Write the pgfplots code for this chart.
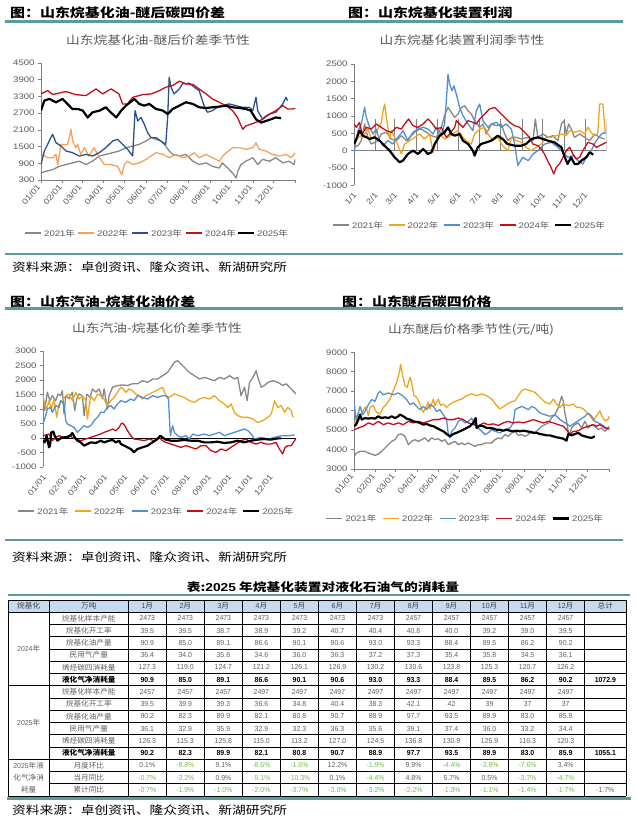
\documentclass[border=0pt]{standalone}
\usepackage{fontspec}
\usepackage{pgfplots}
\pgfplotsset{compat=1.18}
\setmainfont{Liberation Sans}[FakeStretch=1.2]
\newfontfamily\cjk{Noto Sans CJK SC}[FakeStretch=1.2]
\newfontfamily\tabcjk{Noto Sans CJK SC}[FakeStretch=1.05]
\newfontfamily\tabnum{Liberation Sans}[FakeStretch=0.95]
\definecolor{teal}{RGB}{91,155,155}
\definecolor{axgray}{RGB}{128,128,128}
\definecolor{txtgray}{RGB}{89,89,89}
\definecolor{g21}{RGB}{135,135,135}
\definecolor{o22a}{RGB}{246,160,90}
\definecolor{o22}{RGB}{238,166,32}
\definecolor{b23a}{RGB}{40,82,140}
\definecolor{b23}{RGB}{84,141,212}
\definecolor{r24}{RGB}{195,15,25}
\definecolor{hdrblue}{RGB}{197,217,241}
\definecolor{pgreen}{RGB}{112,190,80}
\definecolor{tabgray}{RGB}{95,95,95}
\pgfplotsset{
 seas/.style={
  scale only axis, xmin=0, xmax=365,
  axis x line*=bottom, axis y line*=left,
  axis line style={color=axgray, line width=0.7bp},
  tick style={color=axgray, line width=0.6bp},
  tick align=outside, major tick length=3bp,
  tick label style={font=\fontsize{8}{9}\selectfont, text=txtgray},
  /pgf/number format/assume math mode=true,
  /pgf/number format/1000 sep={},
  xtick={0,31,59,90,120,151,181,212,243,273,304,334,365},
  xticklabel style={rotate=50, anchor=east},
  every axis plot/.append style={line width=1.3bp, line join=round, mark=none},
 }
}
\newcommand\trow[5]{%
  \pgfmathsetmacro\yy{600+12.25*(#1+0.5)}%
  \node[#5] at (88.8,\yy) {\tabcjk #2};%
  \foreach \v [count=\j] in {#3} {\pgfmathsetmacro\xx{128.3+38.03*(\j-0.5)}\node[#5] at (\xx,\yy) {\v};}%
  \node[#5] at (605.35,\yy) {#4};%
}
\newcommand\leg[4]{%
  \draw[#3] (#1,#2) -- ++(16,0);%
  \node[anchor=west, inner sep=0, text=txtgray, font=\fontsize{8}{9}\selectfont] at (#1+19,#2) {#4{\cjk 年}};%
}
\newcommand\legset[7]{% y, x1..x5, color suffix
  \leg{#2}{#1}{draw=g21, line width=1.8bp}{2021}
  \leg{#3}{#1}{draw=o22#7, line width=1.8bp}{2022}
  \leg{#4}{#1}{draw=b23#7, line width=1.8bp}{2023}
  \leg{#5}{#1}{draw=r24, line width=1.8bp}{2024}
  \leg{#6}{#1}{draw=black, line width=2.4bp}{2025}
}
\newcommand\gn[1]{\textcolor{pgreen}{#1\%}}
\newcommand\gp[1]{#1\%}
\begin{document}
\begin{tikzpicture}
\useasboundingbox (0,0) rectangle (637bp,-827bp);
\begin{scope}[x=1bp,y=-1bp]
% headings and rules
\node[anchor=west, inner sep=0] at (10,12.7) {\fontsize{12.5}{14}\cjk\bfseries 图：山东烷基化油-醚后碳四价差};
\node[anchor=west, inner sep=0] at (348,13) {\fontsize{12.5}{14}\cjk\bfseries 图：山东烷基化装置利润};
\node[anchor=west, inner sep=0] at (10,302) {\fontsize{12.5}{14}\cjk\bfseries 图：山东汽油-烷基化油价差};
\node[anchor=west, inner sep=0] at (342,302) {\fontsize{12.5}{14}\cjk\bfseries 图：山东醚后碳四价格};
\draw[teal, line width=2.5bp] (5,21.7) -- (623,21.7);
\draw[teal, line width=2.5bp] (5,254) -- (623,254);
\draw[teal, line width=2.5bp] (5,308.3) -- (623,308.3);
\draw[teal, line width=2.5bp] (5,540) -- (623,540);
\node[anchor=west, inner sep=0] at (12,267) {\fontsize{11.5}{13}\cjk 资料来源：卓创资讯、隆众资讯、新湖研究所};
\node[anchor=west, inner sep=0] at (12,557) {\fontsize{11.5}{13}\cjk 资料来源：卓创资讯、隆众资讯、新湖研究所};
\node[anchor=west, inner sep=0] at (12,810) {\fontsize{11.5}{13}\cjk 资料来源：卓创资讯、隆众资讯、新湖研究所};
% chart titles
\node[text=txtgray] at (158,40) {\fontsize{11.5}{13}\cjk 山东烷基化油-醚后价差季节性};
\node[text=txtgray] at (462,40.5) {\fontsize{11.5}{13}\cjk 山东烷基化装置利润季节性};
\node[text=txtgray] at (157,327.7) {\fontsize{11.5}{13}\cjk 山东汽油-烷基化价差季节性};
\node[text=txtgray] at (471,330) {\fontsize{11.5}{13}\cjk 山东醚后价格季节性(元/吨)};
% legends
\legset{233}{25}{78}{132}{186}{238}{a}
\legset{225}{333}{388.5}{444}{499.5}{555}{}
\legset{511}{18.3}{75}{131.7}{187.3}{243.3}{}
\legset{518.5}{326.3}{383}{439.7}{496.3}{553}{}
% table
\node at (323,587) {\fontsize{11.5}{13}\cjk\bfseries 表:\textbf{\fontspec{Liberation Sans}[FakeStretch=1.2]2025} 年烷基化装置对液化石油气的消耗量};
\draw[teal, line width=2.5bp] (8,595) -- (630,595);
\fill[hdrblue] (8,600) rectangle (626,612.25);
\foreach \x in {8,49.3,128.3,166.3,204.4,242.4,280.4,318.5,356.5,394.5,432.6,470.6,508.6,546.7,584.7,626}
  \draw[line width=0.6bp] (\x,600) -- (\x,796);
\draw[line width=0.6bp] (8,600) -- (626,600);
\draw[line width=0.6bp] (8,612.25) -- (626,612.25);
\foreach \r in {1,2,3,4,5,7,8,9,10,11,13,14}{
  \pgfmathsetmacro\yy{600+12.25*(\r+1)}
  \draw[line width=0.6bp] (49.3,\yy) -- (626,\yy);}
\foreach \r in {6,12,15}{
  \pgfmathsetmacro\yy{600+12.25*(\r+1)}
  \draw[line width=0.6bp] (8,\yy) -- (626,\yy);}
\draw[teal, line width=2.5bp] (7,798.3) -- (631,798.3);
\tikzset{tt/.style={text=tabgray, inner sep=0, font=\tabnum\fontsize{7.3}{8}\selectfont},
         tb/.style={text=black, inner sep=0, font=\tabnum\bfseries\fontsize{7.3}{8}\selectfont},
         th/.style={text=black!75, inner sep=0, font=\tabnum\fontsize{7.3}{8}\selectfont}}
\node[th] at (28.7,606.1) {\tabcjk 烷基化};
\node[th] at (88.8,606.1) {\tabcjk 万吨};
\foreach \m in {1,...,12}{\pgfmathsetmacro\xx{128.3+38.03*(\m-0.5)}\node[th] at (\xx,606.1) {\m{\tabcjk 月}};}
\node[th] at (605.35,606.1) {\tabcjk 总计};
\node[tt] at (28.7,649) {2024{\tabcjk 年}};
\node[tt] at (28.7,722.5) {2025{\tabcjk 年}};
\node[tt] at (28.7,765.4) {2025{\tabcjk 年液}};
\node[tt] at (28.7,777.6) {\tabcjk 化气净消};
\node[tt] at (28.7,789.9) {\tabcjk 耗量};
\trow{1}{烷基化样本产能}{2473,2473,2473,2473,2473,2473,2473,2457,2457,2457,2457,2457}{}{tt}
\trow{2}{烷基化开工率}{39.5,39.5,38.7,38.9,39.2,40.7,40.4,40.8,40.0,39.2,39.0,39.5}{}{tt}
\trow{3}{烷基化油产量}{90.9,85.0,89.1,86.6,90.1,90.6,93.0,93.3,88.4,89.5,86.2,90.2}{}{tt}
\trow{4}{民用气产量}{36.4,34.0,35.6,34.6,36.0,36.3,37.2,37.3,35.4,35.8,34.5,36.1}{}{tt}
\trow{5}{烯烃碳四消耗量}{127.3,119.0,124.7,121.2,126.1,126.9,130.2,130.6,123.8,125.3,120.7,126.2}{}{tt}
\trow{6}{液化气净消耗量}{90.9,85.0,89.1,86.6,90.1,90.6,93.0,93.3,88.4,89.5,86.2,90.2}{1072.9}{tb}
\trow{7}{烷基化样本产能}{2457,2457,2457,2497,2497,2497,2497,2497,2497,2497,2497,2497}{}{tt}
\trow{8}{烷基化开工率}{39.5,39.9,39.3,36.6,34.8,40.4,38.3,42.1,42,39,37,37}{}{tt}
\trow{9}{烷基化油产量}{90.2,82.3,89.9,82.1,80.8,90.7,88.9,97.7,93.5,89.9,83.0,85.9}{}{tt}
\trow{10}{民用气产量}{36.1,32.9,35.9,32.9,32.3,36.3,35.6,39.1,37.4,36.0,33.2,34.4}{}{tt}
\trow{11}{烯烃碳四消耗量}{126.3,115.3,125.8,115.0,113.2,127.0,124.5,136.8,130.9,125.9,116.3,120.3}{}{tt}
\trow{12}{液化气净消耗量}{90.2,82.3,89.9,82.1,80.8,90.7,88.9,97.7,93.5,89.9,83.0,85.9}{1055.1}{tb}
\trow{13}{月度环比}{\gp{0.1},\gn{-8.8},\gp{9.1},\gn{-8.6},\gn{-1.6},\gp{12.2},\gn{-1.9},\gp{9.9},\gn{-4.4},\gn{-3.8},\gn{-7.6},\gp{3.4}}{}{tt}
\trow{14}{当月同比}{\gn{-0.7},\gn{-3.2},\gp{0.9},\gn{-5.1},\gn{-10.3},\gp{0.1},\gn{-4.4},\gp{4.8},\gp{5.7},\gp{0.5},\gn{-3.7},\gn{-4.7}}{}{tt}
\trow{15}{累计同比}{\gn{-0.7},\gn{-1.9},\gn{-1.0},\gn{-2.0},\gn{-3.7},\gn{-3.0},\gn{-3.2},\gn{-2.2},\gn{-1.3},\gn{-1.1},\gn{-1.4},\gn{-1.7}}{\gp{-1.7}}{tt}
\end{scope}

% ---------- chart 1
\begin{axis}[seas, at={(41bp,-180bp)}, anchor=south west, width=254.3bp, height=117bp,
 ymin=300, ymax=4500, ytick={300,900,...,4500},
 xticklabels={01/01,02/01,03/01,04/01,05/01,06/01,07/01,08/01,09/01,10/01,11/01,12/01,{}}]
\addplot[draw=g21] coordinates {(0,553)(7,613)(16.7,670)(26,790)(36,855)(45.5,915)(55,975)(64.6,855)(74,975)(83.7,1160)(93,1220)(103,1280)(112,1340)(122,1460)(131.6,1520)(141,1580)(150.7,1700)(158,1820)(165,1760)(172,1700)(179,1520)(184,1340)(189,1220)(198.6,1160)(208,1220)(218,975)(227,855)(237,915)(246,790)(256,730)(260,915)(268,730)(275,553)(280,372)(282.5,613)(287,855)(294,975)(304,1100)(311,855)(318,1040)(328,975)(337,1100)(347,915)(356,975)(363,855)(365,1040)};
\addplot[draw=o22a] coordinates {(0,1000)(2.4,1217)(9.6,1100)(16.7,1100)(21.5,1220)(24,855)(28.7,1580)(33.5,1560)(38,1580)(40.7,1820)(43,2120)(45.5,1700)(50,1460)(52.6,1580)(57,1220)(62,1460)(69,1160)(76,1460)(83.7,1100)(91,855)(100.5,855)(110,790)(116,490)(119.6,855)(124,975)(131.6,855)(141,915)(150.7,1040)(158,1160)(165,1280)(175,1220)(184,1100)(194,1220)(203,1100)(213,1160)(220,1280)(227,1100)(237,1220)(246,1100)(256,975)(263,1220)(275,1460)(285,1460)(294,1400)(304,1460)(308.6,1640)(313,1400)(323,1340)(332,1220)(342,1160)(351.6,1220)(359,1100)(365,1280)};
\addplot[draw=b23a] coordinates {(0,855)(4.8,1340)(9.6,1580)(14,1820)(16.7,1940)(21.5,1640)(28.7,1520)(36,1340)(45.5,1280)(55,1160)(64.6,1220)(74,1160)(83.7,1280)(93,1460)(103,1700)(110,1760)(117,1580)(124.4,1400)(131.6,1160)(135,2790)(138.8,2420)(143.5,2545)(148.3,2300)(153,2000)(158,1820)(165,1820)(172,1700)(179,1580)(181.8,2545)(184,3990)(186.6,3630)(191,3390)(198.6,3570)(203,3750)(213,3775)(220,3630)(227,3510)(234,2970)(239,2730)(246,2790)(253,2910)(260,2970)(270,3030)(280,2970)(289.5,2910)(299,2910)(304,2790)(308.6,3270)(311,2790)(318,2480)(328,2670)(337,2730)(347,3030)(351.6,3270)(354,3150)};
\addplot[draw=r24] coordinates {(0,3390)(9.6,3510)(16.7,3370)(36,3475)(50,3365)(64.6,3330)(79,3570)(88.5,3390)(100.5,3570)(112,3390)(117,3030)(124,3030)(131.6,3270)(146,3365)(158,3390)(170,3510)(179,3630)(189,3690)(198.6,3850)(208,3750)(218,3730)(227,3570)(237,3390)(246,3210)(256,3090)(265.5,2970)(275,2790)(282,2545)(289.5,2120)(294,2240)(301,2300)(308.6,2370)(316,2450)(323,2600)(330,2690)(337,2790)(347,2970)(354,2850)(361,2850)(365,2870)};
\addplot[draw=black, line width=2.2bp] coordinates {(0,2790)(4.8,3150)(12,3210)(21.5,3090)(31,3210)(38,3030)(45,2850)(53,2850)(60,2790)(67,2545)(74,2730)(84,2790)(93,2910)(100,2730)(108,2545)(115,2790)(122,2970)(134,3210)(141,3030)(148,2970)(155.5,3030)(165,2850)(175,2790)(182,2665)(189,2850)(198.5,2970)(208,3090)(218,3030)(227,2910)(237,2885)(246,2910)(256,2935)(265.5,2970)(275,2910)(285,2885)(294,2850)(301,2790)(308.6,2480)(316,2360)(323,2420)(330,2480)(337,2545)(344.5,2520)};
\end{axis}

% ---------- chart 2
\begin{axis}[seas, at={(354bp,-185.3bp)}, anchor=south west, width=252.3bp, height=121.3bp,
 ymin=-1000, ymax=2500, ytick={-1000,-500,...,2500},
 x axis line style={draw=none}, xtick style={draw=none}, xticklabel style={yshift=-4bp},
 xticklabels={1/1,2/1,3/1,4/1,5/1,6/1,7/1,8/1,9/1,10/1,11/1,12/1,{}}]
\draw[axgray, line width=0.7bp] (axis cs:0,0) -- (axis cs:365,0);
\pgfplotsinvokeforeach{0,31,59,90,120,151,181,212,243,273,304,334,365}{\draw[axgray, line width=0.6bp] (axis cs:#1,0) -- ++(0,-3bp);}
\addplot[draw=g21] coordinates {(0,96)(5.8,144)(10.6,288)(15.4,768)(20,384)(25,192)(30,240)(34.7,288)(39.5,480)(46.8,528)(54,336)(61.2,288)(68.5,432)(75.7,288)(83,432)(90,576)(97.4,624)(104.6,528)(112,432)(119,384)(126.3,672)(131,1008)(136,1248)(140.8,1104)(145.6,960)(150.4,1056)(155.3,1248)(160,1296)(165,1152)(169.7,1056)(174.5,864)(181.8,672)(186.6,768)(191.4,480)(198.6,768)(206,720)(213,768)(218,480)(222.8,288)(227.6,384)(234.8,384)(242,336)(251.7,384)(259,288)(262.3,912)(266,384)(273.5,480)(280.6,384)(288,432)(295,288)(300,768)(303.8,864)(307,480)(310.5,768)(314.4,624)(319,384)(326.4,480)(333.6,384)(341,288)(348,480)(355.3,384)(362.6,336)};
\addplot[draw=o22] coordinates {(0,144)(5.8,384)(10.6,432)(15.4,480)(20,624)(25,336)(30,432)(34.7,624)(39.5,816)(42,1152)(44.4,1344)(46.8,960)(49,672)(51.6,336)(54,576)(58.8,384)(63.6,144)(68.5,-96)(73.3,192)(80.5,288)(87.8,384)(95,480)(102.2,336)(109.5,480)(114.3,-48)(119,288)(124,480)(131,336)(136,384)(143.2,480)(150.4,576)(157.6,384)(165,240)(169.7,192)(174.5,480)(181.8,624)(189,672)(193.8,480)(201,288)(208,384)(215,144)(222.8,0)(227.6,384)(235,288)(242,240)(249,96)(256.5,0)(263.7,96)(271,192)(278,384)(285.4,384)(292.6,432)(300,480)(307,432)(312,576)(319,528)(326.4,576)(333.6,480)(338.4,672)(343,528)(348,432)(352.6,480)(355.3,1344)(360,1344)(363.6,480)};
\addplot[draw=b23] coordinates {(0,-144)(1.9,192)(5.8,576)(10.6,768)(15.4,1248)(17.8,960)(22.7,672)(27.5,480)(32,624)(37,288)(42,144)(49,288)(56,192)(63.6,384)(71,576)(78,288)(85.3,528)(92.5,624)(100,672)(107,624)(114.3,480)(119,672)(126.3,480)(131,768)(133.6,1440)(136,2208)(138.4,1920)(141.8,1730)(144.6,1870)(148,1630)(152.8,1250)(157.6,1008)(165,768)(172,576)(177,1152)(181.8,1344)(186.6,864)(194,672)(198.6,768)(206,816)(213,672)(220,768)(227.6,624)(232.4,192)(237,-430)(244,-192)(252,-288)(259,-96)(266,0)(276,192)(285.4,240)(295,96)(304.7,-96)(309.5,-192)(316.8,-144)(324,-288)(331.2,-384)(336,-192)(343,0)(350.5,288)(358,480)(363,528)};
\addplot[draw=r24] coordinates {(0,768)(3.4,672)(8,816)(11.6,480)(17.8,672)(25,624)(32.3,768)(39.5,672)(46.8,576)(54,528)(61.2,672)(68.5,624)(73.3,768)(79,912)(85.3,720)(92.5,672)(100,768)(107,912)(111.8,816)(119,624)(126.3,672)(133.6,384)(138.4,480)(145.6,672)(148,864)(152.8,768)(157.6,672)(165,864)(172,816)(176.9,768)(181.8,912)(189,1056)(196,1200)(203.5,1248)(210.7,1104)(218,960)(225,816)(232.4,720)(239.6,672)(246.8,528)(254,384)(258.7,192)(266,144)(270.7,48)(275.5,-96)(280,-288)(285,-480)(289,-672)(292.6,-480)(297.4,-384)(302.3,-192)(307,0)(311.9,96)(316.7,-96)(321.5,-240)(326.4,-192)(331.2,0)(338.4,240)(345.6,192)(350.5,96)(355.3,144)(360,192)(365,240)};
\addplot[draw=black, line width=2.2bp] coordinates {(0,190)(3.4,336)(8,576)(13,432)(18,384)(22.7,336)(30,384)(37,288)(44,144)(51.6,0)(58.8,-192)(66,-336)(70.8,-288)(78,-96)(85.3,0)(92.5,-96)(100,48)(107,-96)(112,-48)(116.7,192)(124,432)(131,528)(136,672)(140.8,480)(145.6,432)(152.8,480)(157.6,288)(165,192)(172,0)(174.5,-144)(179,96)(184,192)(191.4,240)(198.6,288)(208,432)(215,336)(222,192)(232.4,144)(242,144)(249,192)(256.5,336)(266,384)(273.5,336)(280.6,288)(290,240)(300,96)(304,-144)(309,-384)(314,-192)(319,-384)(324,-384)(329,-288)(336,-192)(341,-48)(346,-115)};
\end{axis}

% ---------- chart 3
\begin{axis}[seas, at={(43bp,-467bp)}, anchor=south west, width=253bp, height=116bp,
 xmax=373, ymin=-1000, ymax=3000, ytick={-1000,-500,...,3000},
 x axis line style={draw=none}, xtick style={draw=none}, xticklabel style={yshift=-5bp},
 xticklabels={01/01,02/01,03/01,04/01,05/01,06/01,07/01,08/01,09/01,10/01,11/01,12/01,{}}]
\draw[black, line width=0.7bp] (axis cs:0,0) -- (axis cs:373,0);
\addplot[draw=g21] coordinates {(0,1460)(2.5,942)(6.4,1580)(10.3,1287)(13.8,1460)(18.7,1287)(22.2,1517)(26,1460)(28.6,1630)(31,827)(33.5,1460)(38.4,1350)(43.3,1580)(46.8,942)(49.8,1350)(53.2,1517)(58,1460)(60.6,770)(64.5,1517)(69.5,1400)(73,1690)(78,1580)(82.8,1690)(87.7,1350)(90.1,1690)(95,1000)(97.5,1460)(102.5,1750)(110,1810)(117,1830)(124.6,1810)(132,1870)(139.5,1870)(146.8,1976)(154.2,1920)(161.6,2034)(169,2034)(176.4,2150)(183.7,2263)(188.7,2436)(193.6,2608)(198.5,2666)(203.4,2550)(208.4,2436)(215.8,2263)(223.2,2150)(230.5,2034)(238,2090)(245.3,2034)(252.7,1976)(260,2090)(267.5,2034)(274.9,2150)(282.3,2034)(287.2,2090)(292,1460)(297,1750)(301,1287)(304.4,1920)(309.4,2090)(314.3,2320)(316.7,2090)(321.7,1750)(326.6,1810)(331.5,1920)(338.9,1976)(346.3,1920)(353.7,1810)(358.6,1870)(366,1690)(373,1517)};
\addplot[draw=o22] coordinates {(0,1460)(2.5,1172)(5.4,1000)(8.9,1287)(12.3,1000)(16.3,1345)(20.2,712)(23.6,1172)(28.6,1287)(33.5,1460)(38.4,1517)(43.3,1287)(48.3,1575)(53.2,1345)(58,1460)(63,1287)(65.5,655)(70.4,1460)(75.4,1287)(80.3,1517)(85.2,1460)(90,1345)(95,1115)(100,1287)(104.8,1400)(109.7,1575)(114.6,1746)(118.5,1690)(122,1575)(127,1690)(132,1630)(136.9,1517)(141.9,1460)(146.8,1345)(151.7,1460)(156.7,1517)(161.6,1575)(166.5,1630)(171.4,1690)(176.4,1746)(181.3,1460)(186.2,1400)(193.6,1517)(201,1460)(208.4,1400)(215.8,1287)(223.2,1230)(230.5,1345)(238,1400)(245.3,1345)(252.7,1460)(260,1287)(267.5,1172)(272.4,1057)(277.3,1172)(282.3,885)(287.2,770)(294.6,712)(302,712)(309.4,655)(316.7,540)(324,598)(331.5,712)(336.5,827)(341.4,1287)(346.3,1057)(351.2,1115)(356.2,885)(361,1057)(366,942)(368.5,712)};
\addplot[draw=b23] coordinates {(0,483)(3.9,770)(6.4,1000)(11.3,1057)(13.8,885)(18.7,1115)(23.6,1057)(26,1287)(31,1172)(33.5,598)(36,483)(40.9,425)(45.8,367)(50.7,195)(55.7,310)(60.6,425)(65.5,367)(70.4,425)(75.4,598)(80.3,712)(85.2,885)(90,885)(95,1057)(100,1115)(104.8,1000)(109.7,1172)(114.6,1287)(122,1230)(129.4,1345)(134.3,1287)(139.5,1460)(146.8,1400)(154.2,1345)(161.6,1460)(169,1400)(176.4,1460)(181.3,1460)(185,1345)(187.7,80)(191.1,425)(193.6,195)(198.5,80)(203.4,23)(210.8,80)(215.8,-35)(220.7,138)(228,80)(238,138)(245.3,80)(252.7,138)(260,195)(267.5,80)(274.9,138)(282.3,195)(289.7,253)(297,310)(302,253)(306.9,138)(311.8,-35)(321.7,23)(331.5,-35)(341.4,23)(351.2,80)(361,80)(370.9,103)};
\addplot[draw=r24] coordinates {(0,80)(3.9,103)(8.9,138)(13.8,-92)(18.7,23)(23.6,80)(31,23)(38.4,80)(45.8,-12)(55.7,-92)(63,-35)(70.4,23)(77.8,80)(85.2,138)(90,195)(97.5,253)(102.5,310)(107.4,253)(112.3,367)(114.8,483)(117.2,517)(120.7,425)(124.6,253)(129.4,80)(134.3,-35)(141.7,-57)(149,-92)(156.4,-35)(163.8,-92)(171.2,23)(176.1,-92)(181,-150)(188.4,-207)(195.8,-265)(203.2,-322)(210.6,-265)(218,-322)(225.5,-380)(232.8,-265)(240.2,-265)(247.6,-437)(255,-494)(262.4,-380)(269.8,-437)(277.2,-322)(284.5,-207)(292,-92)(299.3,-35)(306.7,-150)(314,-207)(321.4,-150)(328.8,-207)(336.2,-207)(343.5,-150)(348.5,-380)(353.4,-552)(356.8,-322)(361,-265)(366,-265)(370.9,-92)(373,-12)};
\addplot[draw=black, line width=2.2bp] coordinates {(0,-92)(2.5,-150)(5.4,80)(8.9,-322)(10.3,-265)(12.3,195)(15.3,218)(17.2,80)(21.2,-92)(26,-12)(31,23)(35.9,23)(40.9,103)(43.3,172)(46.8,23)(50.7,-92)(55.7,-150)(60.6,-265)(65.5,-207)(70.4,-150)(77.8,-172)(85.2,-92)(90,-150)(97.5,-92)(102.5,-69)(107.4,-150)(112.3,-92)(114.8,-207)(119.7,-265)(124.6,-322)(129.4,-380)(134.3,-494)(139.2,-380)(146.6,-322)(154,-265)(161.4,-150)(168.8,-35)(172.7,80)(176.1,23)(181,-57)(188.4,-92)(198.3,-92)(208.1,-69)(218,-92)(227.8,-92)(237.6,-150)(247.5,-150)(257.3,-127)(267.2,-172)(277,-150)(286.9,-92)(296.7,-150)(306.6,-92)(316.4,-57)(326.3,-35)(336.1,-57)(346,-12)(351,-12)};
\end{axis}

% ---------- chart 4
\begin{axis}[seas, at={(354bp,-469bp)}, anchor=south west, width=255.3bp, height=116.7bp,
 ymin=3000, ymax=9000, ytick={3000,4000,...,9000},
 xticklabels={01/01,02/01,03/01,04/01,05/01,06/01,07/01,08/01,09/01,10/01,11/01,12/01,{}}]
\addplot[draw=g21] coordinates {(0,3650)(3.8,3820)(8.6,3910)(15.7,3910)(20.5,3820)(25.3,3770)(30,3700)(34.8,3770)(39.6,3910)(44.3,4080)(49.1,4250)(53.8,4420)(58.6,4510)(63.4,4770)(68.1,4800)(72.9,4680)(77.7,4250)(82.4,4420)(87.2,4510)(92,4420)(96.7,4510)(101.5,4600)(106.2,4420)(111,4600)(115.8,4510)(120.5,4560)(125.3,4420)(130,4510)(134.8,4250)(139.6,4340)(144.4,4420)(149.1,4250)(153.9,4340)(158.6,4250)(163.4,4340)(168.2,4250)(172.9,4160)(177.7,4250)(182.5,4250)(187.2,4340)(192,4340)(196.8,4340)(201.5,4510)(206.2,4600)(211,4560)(215.8,4770)(220.5,4680)(225.3,4860)(230,4940)(234.9,4730)(239.7,4770)(244.4,4680)(249.2,4770)(254,4940)(258.7,4860)(263.5,5030)(268.2,5200)(273,5280)(277.8,5370)(282.5,5630)(287.3,5800)(292,6140)(296.8,6740)(299.2,6480)(301.5,5880)(303.9,5450)(306.3,4940)(308.6,4770)(311,5110)(315.8,5280)(320.5,5370)(325.3,5110)(330,5450)(334.8,5110)(339.6,5280)(344.3,5200)(349,5030)(353.8,5110)(358.6,4940)(363.3,5110)(365,5200)};
\addplot[draw=o22] coordinates {(0,5280)(2.9,5520)(6.2,5620)(10.5,5830)(15.7,6170)(18,6090)(20.5,5740)(22.9,6170)(27.6,6260)(32.4,5910)(37.2,5830)(41.9,6170)(46.7,6340)(51.5,6600)(56.2,7030)(61,7460)(64.8,7970)(66.7,8370)(69.6,7800)(73,7290)(76.2,7200)(80,7720)(82.3,7460)(85.7,6770)(89.5,6690)(94.3,6340)(99,5910)(102.9,6170)(106.2,6430)(108.6,6090)(113.4,6600)(115.7,6260)(120.5,6600)(123.9,6260)(127.7,6340)(132.4,6170)(137.2,6340)(142,6430)(146.7,6510)(153.9,6600)(161,6770)(168.2,6860)(175.3,6770)(182.5,6860)(189.6,6770)(196.8,6600)(204,6260)(208.7,6090)(215.8,6260)(223,6430)(230.2,6510)(234.9,6770)(239.7,7030)(244.4,7110)(251.6,7030)(258.7,6940)(265.9,6690)(273,6430)(280.2,6340)(285,6600)(289.7,6340)(294.5,6170)(299.2,6340)(306.4,6260)(313.5,6340)(318.3,6170)(323,6170)(327.8,6090)(332.6,5910)(337.4,5740)(342.1,5480)(346.9,5740)(351.6,5990)(354,5740)(358.7,5480)(363.5,5570)(365,5740)};
\addplot[draw=b23] coordinates {(0,6480)(2.9,5540)(6.2,5880)(8.6,6220)(12.4,5790)(15.7,5960)(20.5,6310)(25.3,6570)(30,6480)(34.8,6910)(37.2,7000)(41.9,6820)(49.1,6910)(56.2,6820)(63.4,6910)(70.5,6740)(75.3,6570)(80.1,6310)(84.8,6400)(89.6,6220)(94.3,6050)(99.1,6220)(103.9,6050)(108.6,6310)(113.4,6220)(118.1,5960)(122.9,6050)(127.7,5790)(132.4,5540)(134.8,4770)(137.2,4600)(139.6,4940)(144.4,5110)(149.1,5450)(153.9,5540)(158.6,5370)(163.4,5450)(168.2,5620)(172.9,5280)(177.7,5110)(182.5,4940)(187.2,4770)(192,4860)(196.8,5030)(201.5,4940)(208.7,4860)(215.8,5030)(223,5110)(227.8,5370)(230.2,6050)(234.9,6140)(239.7,6220)(244.4,6140)(249.2,6050)(254,6220)(258.7,6140)(265.9,5880)(273,5790)(280.2,5710)(287.4,5790)(294.5,5540)(301.7,5370)(308.8,5200)(316,5370)(323.1,5540)(330.3,5710)(334.9,5880)(339.8,5710)(344.5,5450)(349.3,5370)(354,5280)(361,5110)(365,5030)};
\addplot[draw=r24] coordinates {(0,5020)(6.2,5110)(13.3,5200)(20.5,5370)(27.6,5280)(34.8,5450)(42,5280)(49.1,5370)(56.2,5280)(63.4,5370)(70.5,5280)(77.7,5450)(84.8,5370)(92,5450)(99.1,5370)(106.2,5450)(113.4,5540)(120.5,5540)(127.7,5620)(134.8,5540)(142,5540)(149.1,5620)(156.3,5540)(163.4,5370)(170.5,5280)(177.7,5200)(184.9,5370)(192,5280)(199.1,5320)(206.3,5240)(213.4,5370)(220.5,5450)(227.7,5370)(234.9,5420)(242,5370)(249.2,5450)(256.3,5540)(263.5,5450)(270.6,5370)(277.8,5450)(285,5370)(292,5280)(299.2,5200)(303.9,5020)(308.6,4770)(313.4,4940)(318.2,4940)(323,5020)(327.7,5110)(334.9,5200)(342,5280)(346.8,5200)(351.6,5280)(358.7,5110)(365,5080)};
\addplot[draw=black, line width=2.2bp] coordinates {(0,5200)(2.9,5280)(6.2,5540)(8.6,5800)(11,5540)(15.7,5620)(20.5,5590)(25.3,5620)(30,5590)(34.8,5710)(39.6,5620)(44.3,5660)(49.1,5620)(53.8,5710)(58.6,5620)(63.4,5710)(65.7,5800)(70.5,5710)(75.3,5590)(80.1,5540)(84.8,5450)(89.6,5420)(94.3,5370)(99.1,5280)(103.9,5320)(108.6,5240)(113.4,5200)(118.1,5110)(122.9,5020)(127.7,4940)(132.4,4800)(137.2,4680)(141.9,4800)(146.7,4860)(151.5,4940)(156.2,5020)(161,5110)(165.8,5200)(170.5,5370)(173.9,5620)(175.3,5110)(180,5240)(184.8,5200)(189.6,5110)(194.3,5110)(199.1,5080)(203.9,5020)(208.6,5020)(213.4,4970)(218.2,5020)(222.9,4970)(227.7,4940)(232.5,4970)(237.2,4940)(242,4970)(246.8,4940)(251.5,4910)(256.3,4860)(261,4860)(265.8,4800)(270.6,4770)(275.3,4730)(280.1,4730)(284.8,4680)(289.6,4630)(294.4,4600)(299.1,4560)(303.9,4460)(306.3,4800)(311,4730)(315.8,4800)(320.6,4860)(325.3,4730)(330.1,4680)(334.8,4630)(339.6,4600)(344.4,4680)};
\end{axis}
\end{tikzpicture}
\end{document}
